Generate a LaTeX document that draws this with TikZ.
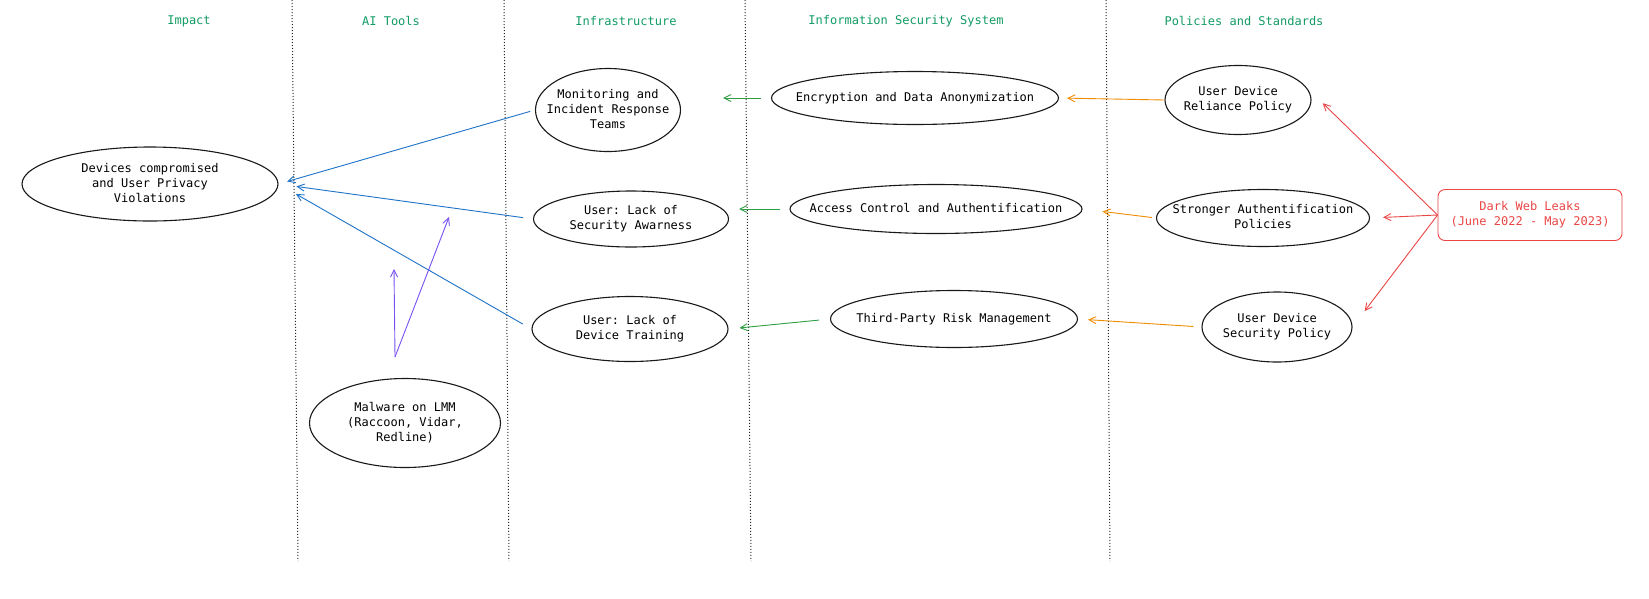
\documentclass[tikz,border=0pt]{standalone}
\usepackage{fontspec}
\setmonofont{DejaVu Sans Mono}
\usetikzlibrary{shapes.geometric,arrows.meta}
\definecolor{tgreen}{RGB}{18,156,100}
\definecolor{cblue}{RGB}{30,115,200}
\definecolor{cgreen}{RGB}{47,158,68}
\definecolor{corange}{RGB}{240,140,0}
\definecolor{cred}{RGB}{235,70,70}
\definecolor{cpurple}{RGB}{121,80,242}
\newcommand\mytxt[1]{\makebox[0pt]{\begin{tabular}{@{}c@{}}#1\end{tabular}}}
\begin{document}
\begin{tikzpicture}[x=1pt,y=-1pt,
  ell/.style={ellipse, draw=black!90, line width=1.1pt, inner sep=0pt,
    font=\ttfamily\fontsize{12}{15}\selectfont},
  ttl/.style={text=tgreen, font=\ttfamily\fontsize{12}{15}\selectfont},
  arr/.style={-{Straight Barb[length=7pt,width=7pt]}, line width=0.9pt},
  sep/.style={dotted, line width=1pt, black!85}]
\useasboundingbox (0,0) rectangle (1649,598);
\fill[white] (0,0) rectangle (1649,598);

% column separators
\draw[sep] (292,0) -- (298,561);
\draw[sep] (504,0) -- (509,561);
\draw[sep] (745,0) -- (751,561);
\draw[sep] (1106,0) -- (1110,561);

% titles
\node[ttl] (t1) at (189,21) {Impact};
\node[ttl] (t2) at (391,21) {AI Tools};
\node[ttl] (t3) at (626,21) {Infrastructure};
\node[ttl] (t4) at (906,21) {Information Security System};
\node[ttl] (t5) at (1244,21) {Policies and Standards};

% nodes
\node[ell, minimum width=256pt, minimum height=74pt] (dev) at (150,184) {\mytxt{Devices compromised\\and User Privacy\\Violations}};
\node[ell, minimum width=145pt, minimum height=83pt] (mon) at (608,110) {\mytxt{Monitoring and\\Incident Response\\Teams}};
\node[ell, minimum width=287pt, minimum height=53pt] (enc) at (915,98) {\mytxt{Encryption and Data Anonymization}};
\node[ell, minimum width=146pt, minimum height=69pt] (rel) at (1238,100) {\mytxt{User Device\\Reliance Policy}};
\node[ell, minimum width=195pt, minimum height=56pt] (lack) at (631,219) {\mytxt{User: Lack of\\Security Awarness}};
\node[ell, minimum width=292pt, minimum height=49pt] (acc) at (936,209) {\mytxt{Access Control and Authentification}};
\node[ell, minimum width=213pt, minimum height=57pt] (str) at (1263,218) {\mytxt{Stronger Authentification\\Policies}};
\node[ell, minimum width=196pt, minimum height=65pt] (train) at (630,329) {\mytxt{User: Lack of\\Device Training}};
\node[ell, minimum width=247pt, minimum height=57pt] (third) at (954,319) {\mytxt{Third-Party Risk Management}};
\node[ell, minimum width=150pt, minimum height=70pt] (sec) at (1277,327) {\mytxt{User Device\\Security Policy}};
\node[ell, minimum width=191pt, minimum height=89pt] (mal) at (405,423) {\mytxt{Malware on LMM\\(Raccoon, Vidar,\\Redline)}};
\node[draw=cred, rounded corners=7pt, line width=0.9pt, minimum width=184pt, minimum height=51pt,
  text=cred, align=center, font=\ttfamily\fontsize{12}{15}\selectfont] (dark) at (1530,215)
  {Dark Web Leaks\\(June 2022 - May 2023)};

% blue arrows
\draw[arr, cblue, shorten <=5pt, shorten >=9pt] (mon.west) -- (dev.east);
\draw[arr, cblue, shorten <=10pt, shorten >=18pt] (lack.west) -- (dev.east);
\draw[arr, cblue, shorten <=10pt, shorten >=20pt] (train.west) -- (dev.east);

% purple arrows
\coordinate (mw) at ([xshift=-10pt,yshift=21pt]mal.north);
\coordinate (p1) at (394,269);
\coordinate (p2) at (449,217);
\draw[arr, cpurple] (mw) -- (p1);
\draw[arr, cpurple] (mw) -- (p2);

% green arrows
\draw[arr, cgreen, shorten <=10pt, shorten >=42pt] (enc.west) -- (enc.west -| mon.east);
\draw[arr, cgreen, shorten <=9pt, shorten >=10pt] (acc.west) -- (acc.west -| lack.east);
\draw[arr, cgreen, shorten <=11pt, shorten >=11pt] (third.west) -- (train.east);

% orange arrows
\draw[arr, corange, shorten >=8pt] (rel.west) -- (enc.east);
\draw[arr, corange, shorten <=4pt, shorten >=20pt] (str.west) -- (acc.east);
\draw[arr, corange, shorten <=8pt, shorten >=10pt] (sec.west) -- (third.east);

% red arrows
\draw[arr, cred, shorten >=22pt] (dark.west) -- (rel.10);
\draw[arr, cred, shorten >=13pt] (dark.west) -- (str.east);
\draw[arr, cred, shorten >=20pt] (dark.west) -- (sec.east);
\end{tikzpicture}
\end{document}
